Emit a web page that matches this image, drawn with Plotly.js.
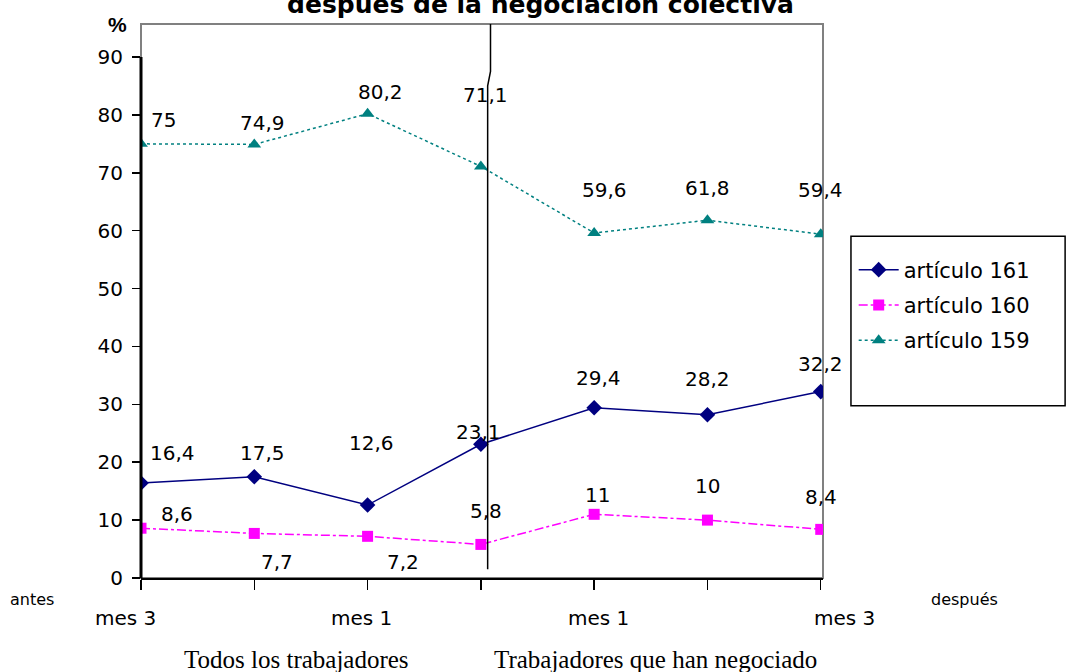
<!DOCTYPE html>
<html><head><meta charset="utf-8">
<script src="https://cdn.plot.ly/plotly-3.0.1.min.js"></script>
<style>html,body{margin:0;padding:0;background:#fff}#c{width:1066px;height:672px}</style>
</head><body><div id="c"></div>
<script>
const categories = [0, 1, 2, 3, 4, 5, 6];
const tickLabels = ["mes 3", "mes 1", "mes 1", "mes 3"];
const tickLabelPos = [0, 2, 4, 6];
const groupLabels = ["Todos los trabajadores", "Trabajadores que han negociado"];
const art161 = [16.4, 17.5, 12.6, 23.1, 29.4, 28.2, 32.2];
const art160 = [8.6, 7.7, 7.2, 5.8, 11, 10, 8.4];
const art159 = [75, 74.9, 80.2, 71.1, 59.6, 61.8, 59.4];
const seriesNames = ["artículo 161", "artículo 160", "artículo 159"];

const fmt = v => String(v).replace('.', ',');
const F = 'DejaVu Sans, Verdana, sans-serif';
const S = 'Liberation Serif, Times New Roman, serif';

const traces = [
  {x: categories, y: art161, name: seriesNames[0], legendgroup: 'a', mode: 'lines+markers',
   line: {color: '#000080', width: 1.5}, marker: {symbol: 'diamond', size: 12, color: '#000080'}},
  {x: categories, y: art160, name: seriesNames[1], legendgroup: 'b', mode: 'lines+markers',
   line: {color: '#FF00FF', width: 1.5, dash: 'dashdot'}, marker: {symbol: 'square', size: 11, color: '#FF00FF'}},
  {x: categories, y: art159, name: seriesNames[2], legendgroup: 'c', mode: 'lines+markers',
   line: {color: '#008080', width: 1.5, dash: 'dot'}, marker: {symbol: 'triangle-up', size: 12, color: '#008080'}}
];

const ann = [];
// label offsets (pixels) per series
const off161 = [[31,30],[8,24],[4,62],[-2,12],[4,30],[0,36],[0,28]];
const off160 = [[36,14],[23,-29],[35,-26],[5,33],[3,19],[0,34],[0,32]];
const off159 = [[22,24],[8,21],[13,22],[5,71],[10,43],[0,32],[0,44]];
function addLabels(arr, offs) {
  arr.forEach((v, i) => ann.push({x: categories[i], y: v, xref: 'x', yref: 'y', text: fmt(v),
    showarrow: false, xshift: offs[i][0], yshift: offs[i][1], xanchor: 'center', yanchor: 'middle',
    font: {family: F, size: 20, color: '#000'}}));
}
addLabels(art161, off161);
addLabels(art160, off160);
addLabels(art159, off159);

const tickShift = [-16, -6, 4, 24];
tickLabelPos.forEach((p, i) => ann.push({x: p, y: 0, xref: 'x', yref: 'y', text: tickLabels[i], showarrow: false,
  yshift: -40, xshift: tickShift[i], xanchor: 'center', yanchor: 'middle', font: {family: F, size: 20, color: '#000'}}));
ann.push({x: -0.16, y: -0.0397, xref: 'paper', yref: 'paper', text: 'antes', showarrow: false,
  xanchor: 'center', yanchor: 'middle', font: {family: F, size: 16, color: '#000'}});
ann.push({x: 1.208, y: -0.0397, xref: 'paper', yref: 'paper', text: 'después', showarrow: false,
  xanchor: 'center', yanchor: 'middle', font: {family: F, size: 16, color: '#000'}});
ann.push({x: 1.37, y: 0, xref: 'x', yref: 'y', yshift: -81, text: groupLabels[0], showarrow: false,
  xanchor: 'center', yanchor: 'middle', font: {family: S, size: 25, color: '#000'}});
ann.push({x: 4.54, y: 0, xref: 'x', yref: 'y', yshift: -81, text: groupLabels[1], showarrow: false,
  xanchor: 'center', yanchor: 'middle', font: {family: S, size: 25, color: '#000'}});
ann.push({x: -0.035, y: 1.0, xref: 'paper', yref: 'paper', text: '<b>%</b>', showarrow: false,
  xanchor: 'center', yanchor: 'middle', font: {family: 'Liberation Sans, Arial, sans-serif', size: 21, color: '#000'}});

const layout = {
  width: 1066, height: 672,
  margin: {l: 141, r: 243, t: 24, b: 94},
  paper_bgcolor: '#fff', plot_bgcolor: '#fff',
  title: {text: '<b>después de la negociación colectiva</b>', x: 0.507, xanchor: 'center',
    y: 0.993, yref: 'container', yanchor: 'middle', font: {family: 'DejaVu Sans, sans-serif', size: 25, color: '#000'}},
  showlegend: true,
  legend: {x: 1.045, xanchor: 'left', y: 0.593, yanchor: 'top', font: {family: F, size: 21, color: '#000'},
    bgcolor: 'rgba(0,0,0,0)', tracegroupgap: 5, itemwidth: 40},
  xaxis: {range: [0, 6.02], tickvals: categories, showticklabels: false, ticks: 'outside', ticklen: 10,
    tickcolor: '#000', tickwidth: 1.5, showgrid: false, zeroline: false, showline: true, linecolor: '#000', linewidth: 2},
  yaxis: {range: [0, 95.7], tickvals: [0,10,20,30,40,50,60,70,80,90], ticks: 'outside', ticklen: 8, tickcolor: '#000',
    tickwidth: 1.5, ticklabelstandoff: 5, showgrid: false, zeroline: false, showline: false,
    tickfont: {family: F, size: 20, color: '#000'}},
  shapes: [
    {type: 'rect', xref: 'paper', yref: 'paper', x0: 0, x1: 1, y0: 0, y1: 1, line: {color: '#808080', width: 2}, layer: 'below'},
    {type: 'line', xref: 'paper', yref: 'y', x0: 0, x1: 0, y0: 0, y1: 90, line: {color: '#000', width: 3}},
    {type: 'path', xref: 'x', yref: 'y', path: 'M 3.085 95.7 L 3.085 87.5 L 3.06 85 L 3.06 1.5', line: {color: '#000', width: 1.5}},
    {type: 'rect', xref: 'paper', yref: 'paper', x0: 1.041, x1: 1.355, y0: 0.311, y1: 0.617, line: {color: '#000', width: 1.5}}
  ],
  annotations: ann
};
Plotly.newPlot('c', traces, layout, {displayModeBar: false, staticPlot: true});
</script></body></html>
